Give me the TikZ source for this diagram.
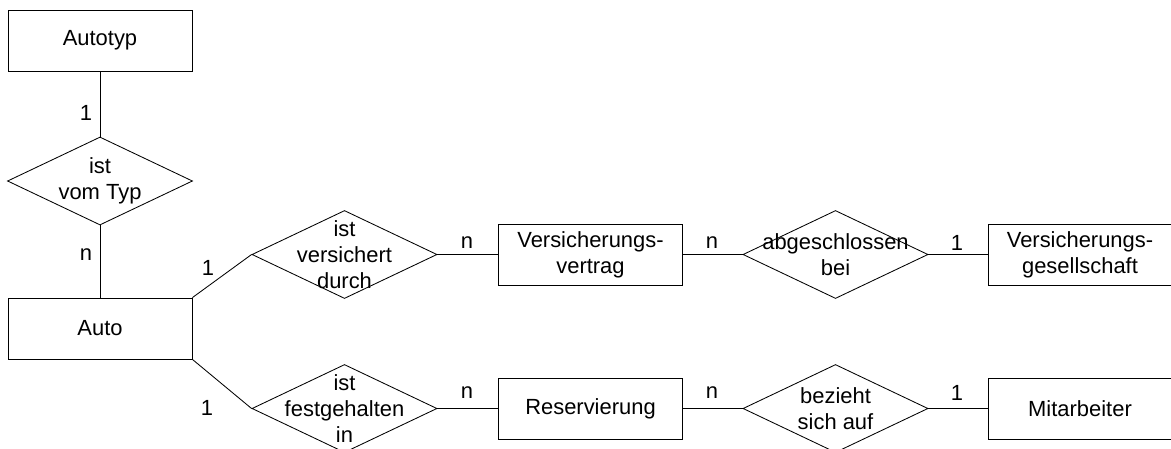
\documentclass[tikz,border=0pt]{standalone}
\usepackage{fontspec}
\setmainfont{Liberation Sans}
\usetikzlibrary{shapes.geometric}

\begin{document}
\begin{tikzpicture}[x=0.025cm, y=-0.025cm, line width=0.6pt,
    font=\fontsize{15.6}{18.5}\selectfont,
    entity/.style={draw, rectangle, minimum width=4.6cm, minimum height=1.525cm, align=center, inner sep=0pt},
    rel/.style={draw, diamond, minimum width=4.625cm, minimum height=2.2cm, inner sep=0pt},
    reltext/.style={align=center, inner sep=0pt}]
\useasboundingbox (0,0) rectangle (1171,448);
% Entities
\node[entity] (autotyp) at (100,40.5) {Autotyp};
\node[entity] (auto) at (100,328.5) {Auto};
\node[entity] (vertrag) at (590.5,254.5) {Versicherungs-\\vertrag};
\node[entity] (gesell) at (1080,254.5) {Versicherungs-\\gesellschaft};
\node[entity] (reserv) at (590.5,408.5) {Reservierung};
\node[entity] (mitarb) at (1080,408.5) {Mitarbeiter};
% Relationships
\node[rel, label={[reltext]center:{ist\\vom Typ}}] (typ) at (100,181) {};
\node[rel, label={[reltext]center:{ist\\versichert\\durch}}] (vers) at (344.5,254.5) {};
\node[rel, label={[reltext]center:{abgeschlossen\\bei}}] (abg) at (835.5,254.5) {};
\node[rel, label={[reltext]center:{ist\\festgehalten\\in}}] (fest) at (344.5,408.5) {};
\node[rel, label={[reltext]center:{bezieht\\sich auf}}] (bez) at (835.5,408.5) {};
% Connectors
\foreach \a/\b in {autotyp/typ, typ/auto, vers/vertrag, vertrag/abg, abg/gesell, fest/reserv, reserv/bez, bez/mitarb}
    \draw (\a) -- (\b);
\draw (auto.north east) -- (vers.west);
\draw (auto.south east) -- (fest.west);
% Cardinalities
\foreach \x/\y/\card [count=\i] in {86/113/1, 86/255/n, 208/268/1, 207/408/1, 467/243/n, 467/393/n, 712/243/n, 957/243/1, 712/393/n, 957/393/1}
    \node (card\i) at (\x,\y) {\card};
\end{tikzpicture}
\end{document}
